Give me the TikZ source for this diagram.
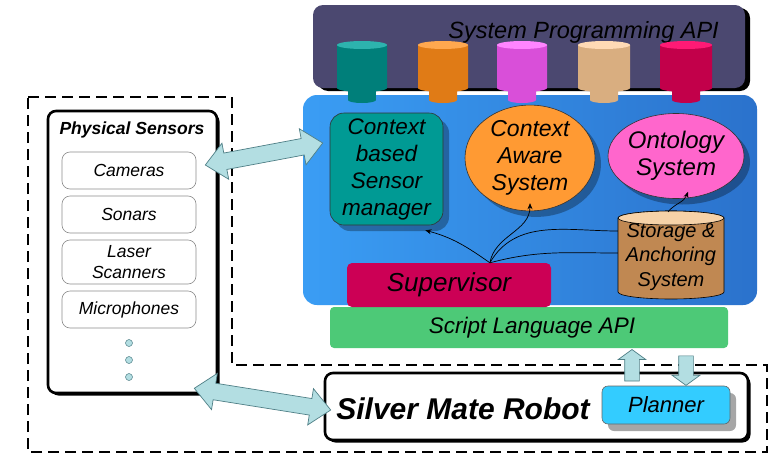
\documentclass[tikz,border=0pt]{standalone}
\usepackage{fontspec}
\setmainfont{Liberation Sans}
\usetikzlibrary{shapes.geometric,shapes.arrows,arrows.meta,calc,shadows}
\definecolor{sysapi}{HTML}{4B4870}
\definecolor{coreL}{HTML}{3A9DF4}
\definecolor{coreR}{HTML}{2B72CC}
\definecolor{tealc}{HTML}{009A94}
\definecolor{orangec}{HTML}{FF9A33}
\definecolor{pinkc}{HTML}{FF66CC}
\definecolor{supc}{HTML}{CC0055}
\definecolor{greenc}{HTML}{4DC977}
\definecolor{planc}{HTML}{33CCFF}
\definecolor{fatc}{HTML}{B3DEE2}
\definecolor{fatline}{HTML}{4F7F86}
\definecolor{tanm}{HTML}{F4CC9C}
\definecolor{tand}{HTML}{C08852}
\definecolor{tant}{HTML}{F6D2A8}
% plug colours: edge / middle / top
\definecolor{pAe}{HTML}{007F7A}\definecolor{pAm}{HTML}{00A8A3}\definecolor{pAt}{HTML}{2DB3AE}
\definecolor{pBe}{HTML}{E07B16}\definecolor{pBm}{HTML}{FFA040}\definecolor{pBt}{HTML}{FFA84F}
\definecolor{pCe}{HTML}{D94FD9}\definecolor{pCm}{HTML}{FF70FF}\definecolor{pCt}{HTML}{FF85FF}
\definecolor{pDe}{HTML}{D9AE80}\definecolor{pDm}{HTML}{FFD4A8}\definecolor{pDt}{HTML}{FFDAB5}
\definecolor{pEe}{HTML}{C2004A}\definecolor{pEm}{HTML}{FF0066}\definecolor{pEt}{HTML}{FF1A75}
\newcommand\plugdraw[5]{%
  \path[left color=#2, middle color=#3, right color=#2]
    (#1-14,86) -- (#1-14,100) arc[start angle=180,end angle=0,x radius=14,y radius=3] -- (#1+14,86) -- cycle;
  \path[left color=#2, middle color=#3, right color=#2]
    (#1-#5,45) -- (#1-#5,88) arc[start angle=180,end angle=0,x radius=#5,y radius=4] -- (#1+#5,45) -- cycle;
  \fill[#4] (#1,45) ellipse[x radius=#5,y radius=4];
}
\newcommand\fatlink[3]{%
  \path let \p1=(#2), \p2=(#3), \n1={atan2(\y2-\y1,\x2-\x1)}, \n2={veclen(\x2-\x1,\y2-\y1)} in
    node[#1, rotate=\n1, minimum height=\n2] at ($(#2)!0.5!(#3)$) {};
}
\begin{document}
\begin{tikzpicture}[x=1pt,y=-1pt,
  txt/.style 2 args={font=\itshape\fontsize{#1}{#2}\selectfont, align=center, text=black, inner sep=0pt},
  sysbox/.style={rectangle, rounded corners=10pt, fill=sysapi, minimum width=432pt, minimum height=83pt,
     drop shadow={shadow xshift=5pt, shadow yshift=-3pt, opacity=1, fill=black}},
  corebox/.style={rectangle, rounded corners=14pt, left color=coreL, right color=coreR, minimum width=454pt, minimum height=210pt},
  csmbox/.style={rectangle, rounded corners=14pt, fill=tealc, draw=black!80, line width=0.6pt, minimum width=113pt, minimum height=112pt,
     drop shadow={shadow xshift=6pt, shadow yshift=-6pt, opacity=0.3, fill=black}},
  ellbox/.style={ellipse, draw=black!80, line width=0.6pt, inner sep=0pt,
     drop shadow={shadow xshift=6pt, shadow yshift=-6pt, opacity=0.3, fill=black}},
  supbox/.style={rectangle, rounded corners=5pt, fill=supc, minimum width=204pt, minimum height=44pt},
  apibox/.style={rectangle, rounded corners=4pt, fill=greenc, minimum width=398pt, minimum height=41pt},
  framebox/.style={rectangle, rounded corners=8pt, fill=white, draw=black, line width=2.6pt,
     drop shadow={shadow xshift=2.5pt, shadow yshift=-2.5pt, opacity=1, fill=black}},
  subbox/.style={rectangle, rounded corners=8pt, fill=white, draw=black!45, line width=0.6pt, minimum width=134pt},
  planbox/.style={rectangle, rounded corners=6pt, fill=planc, draw=black!60, line width=0.6pt, minimum width=128pt, minimum height=38pt,
     drop shadow={shadow xshift=6pt, shadow yshift=-7pt, opacity=0.35, fill=black}},
  dot/.style={circle, fill=fatc, draw=fatline, line width=0.5pt, minimum size=7pt, inner sep=0pt},
  fatarrow/.style={double arrow, draw=fatline, fill=fatc, line width=0.7pt, inner xsep=0pt, inner ysep=8pt,
     double arrow head extend=10pt, double arrow tip angle=84},
  smallarrow/.style={single arrow, draw=fatline, fill=fatc, line width=0.7pt, inner xsep=0pt, inner ysep=7pt,
     single arrow head extend=6.5pt, single arrow tip angle=108},
  dashline/.style={draw=black, line width=2.4pt, dash pattern=on 11pt off 6pt},
  thinarr/.style={draw=black, line width=0.7pt, -{Stealth[length=6pt,width=5pt]}},
  thinline/.style={draw=black, line width=0.7pt}
]
\useasboundingbox (0,0) rectangle (775,455);
\fill[white] (0,0) rectangle (775,455);

% dashed boundary
\draw[dashline] (28,97) -- (232,97) -- (232,365) -- (767,365) -- (767,452) -- (28,452) -- cycle;

% system programming API
\node[sysbox] (sys) at (529,46.5) {};
\node[txt={23.5}{27}, anchor=east] (systxt) at (719,32) {System Programming API};

% core framework
\node[apibox] (api) at (529,327.5) {};
\node[txt={22.5}{26}] (apitxt) at (532,328) {Script Language API};
\node[corebox] (core) at (530,200) {};

% plugs
\plugdraw{362}{pAe}{pAm}{pAt}{25}
\plugdraw{443}{pBe}{pBm}{pBt}{25}
\plugdraw{522}{pCe}{pCm}{pCt}{25}
\plugdraw{604}{pDe}{pDm}{pDt}{26}
\plugdraw{686}{pEe}{pEm}{pEt}{26}

% components
\node[csmbox, txt={22.5}{27}] (csm) at (386.5,169) {Context\\based\\Sensor\\manager};
\node[ellbox, fill=orangec, minimum width=130pt, minimum height=80pt, txt={23}{27}] (cas) at (530,158) {Context\\Aware\\System};
\node[ellbox, fill=pinkc, minimum width=136pt, minimum height=85pt, txt={24}{27}] (onto) at (676,156) {Ontology\\System};

% storage cylinder
\path[left color=tand, middle color=tanm, right color=tand, draw=black, line width=0.6pt]
  (618,218) -- (618,292) arc[start angle=180,end angle=0,x radius=53,y radius=7]
  -- (724,218) arc[start angle=0,end angle=-180,x radius=53,y radius=7] -- cycle;
\draw[fill=tant, line width=0.6pt] (671,218) ellipse[x radius=53,y radius=7];
\node[txt={20}{24.5}, minimum width=106pt, minimum height=88pt] (store) at (671,257) {Storage \&\\Anchoring\\System};

\node[supbox, txt={26}{30}] (sup) at (449,285) {Supervisor};

% supervisor links
\coordinate (hub) at ($(sup.north west)!0.7!(sup.north east)$);
\draw[thinarr] (hub) to[out=145,in=-15] ($(csm.south east)+(-18,5)$);
\draw[thinarr] (hub) to[out=80,in=-90] ($(cas.south)+(0,-8)$);
\draw[thinline] (hub) to[out=60,in=180] ($(store.west)+(0,-26)$);
\draw[thinline] (hub) to[out=15,in=180] ($(store.west)+(0,-4)$);
\draw[thinarr] ($(store.north)+(-3,-1)$) to[out=50,in=-110] ($(onto.south)+(12,-7)$);

% physical sensors
\node[framebox, minimum width=169pt, minimum height=282pt] (phys) at (132.5,252) {};
\node[font=\bfseries\itshape\fontsize{17.5}{20}\selectfont, inner sep=0pt] (physt) at (132,130) {Physical Sensors};
\node[subbox, minimum height=37pt, txt={17.5}{21}] (cam) at (129,170.5) {Cameras};
\node[subbox, minimum height=37pt, txt={17.5}{21}] (son) at (129,214.5) {Sonars};
\node[subbox, minimum height=44pt, txt={17.5}{21}] (las) at (129,262) {Laser\\Scanners};
\node[subbox, minimum height=37pt, txt={17.5}{21}] (mic) at (129,309.5) {Microphones};
\node[dot] (d1) at (129,343) {};
\node[dot] (d2) at (129,360) {};
\node[dot] (d3) at (129,377) {};

% robot
\node[framebox, minimum width=423pt, minimum height=67pt] (robot) at (536.5,406.5) {};
\node[font=\bfseries\itshape\fontsize{30}{34}\selectfont, inner sep=0pt] (robtxt) at (463,409) {Silver Mate Robot};
\node[planbox, txt={22}{26}] (plan) at (666,405) {Planner};

% fat arrows
\coordinate (a1) at ($(cam.east)+(9,-5.5)$);
\coordinate (b1) at ($(csm.west)+(-7,-26)$);
\fatlink{fatarrow}{a1}{b1}
\coordinate (a2) at ($(phys.south east)+(-24,-6)$);
\coordinate (b2) at ($(robot.west)+(7,3.5)$);
\fatlink{fatarrow}{a2}{b2}
\coordinate (u1) at ($(plan.north)+(-34,-2)$);
\coordinate (u2) at ($(api.south)+(103,4)$);
\fatlink{smallarrow}{u1}{u2}
\coordinate (v1) at ($(api.south)+(157,5)$);
\coordinate (v2) at ($(plan.north)+(20,-3)$);
\fatlink{smallarrow}{v1}{v2}
\end{tikzpicture}
\end{document}
